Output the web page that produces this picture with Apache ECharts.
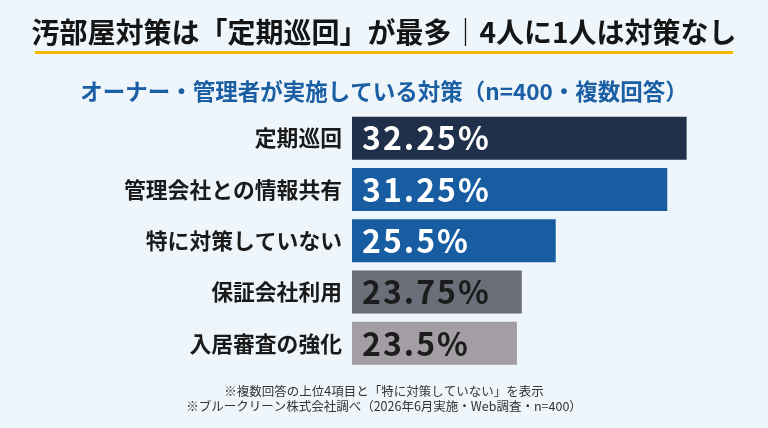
<!DOCTYPE html>
<html>
<head>
<meta charset="utf-8">
<script src="https://cdn.jsdelivr.net/npm/echarts@6/dist/echarts.min.js"></script>
<style>
  html, body { margin: 0; padding: 0; background: #eff6fb; }
  #chart { width: 768px; height: 428px; }
</style>
</head>
<body>
<div id="chart"></div>
<script>
// data
var categories = ['定期巡回', '管理会社との情報共有', '特に対策していない', '保証会社利用', '入居審査の強化']
var values = [32.25, 31.25, 25.5, 23.75, 23.5]

var barColors = ['#21304a', '#185da2', '#185da2', '#6b6f79', '#a39ea4']
var labelColors = ['#fff', '#fff', '#fff', '#1c1c1c', '#1c1c1c']

var jpFont = '"Noto Sans CJK JP", "Noto Sans", sans-serif'

// spread the value label a little (letterSpacing is not supported)
function spaced(s) {
  return s.split('').join('\u200a')
}

var chart = echarts.init(document.getElementById('chart'))
chart.setOption({
  backgroundColor: '#eff6fb',
  animation: false,
  title: [
    {
      text: '汚部屋対策は「定期巡回」が最多｜4人に1人は対策なし',
      left: 'center',
      top: 13,
      textStyle: { fontFamily: jpFont, fontSize: 28, fontWeight: 'bold', color: '#151515' }
    },
    {
      text: 'オーナー・管理者が実施している対策（n=400・複数回答）',
      left: 'center',
      top: 75,
      textStyle: { fontFamily: jpFont, fontSize: 22.5, fontWeight: 'bold', color: '#1a5ea3' }
    },
    {
      text: '※複数回答の上位4項目と「特に対策していない」を表示',
      left: 'center',
      top: 380,
      textStyle: { fontFamily: jpFont, fontSize: 12.5, fontWeight: 'normal', color: '#333' }
    },
    {
      text: '※ブルークリーン株式会社調べ（2026年6月実施・Web調査・n=400）',
      left: 'center',
      top: 395,
      textStyle: { fontFamily: jpFont, fontSize: 12.5, fontWeight: 'normal', color: '#333' }
    }
  ],
  graphic: [
    {
      type: 'line',
      shape: { x1: 35, y1: 52.5, x2: 733, y2: 52.5 },
      style: { stroke: '#f6b700', lineWidth: 3 }
    }
  ],
  grid: { left: 352, right: 28, top: 112.5, height: 256.5 },
  xAxis: {
    type: 'value',
    min: 15,
    max: 35,
    show: false
  },
  yAxis: {
    type: 'category',
    inverse: true,
    data: categories,
    axisLine: { show: false },
    axisTick: { show: false },
    axisLabel: {
      margin: 10,
      fontFamily: jpFont,
      fontSize: 21.8,
      fontWeight: 'bold',
      color: '#1a1a1a'
    }
  },
  series: [
    {
      type: 'bar',
      barWidth: 43,
      itemStyle: {
        color: function (p) { return barColors[p.dataIndex] }
      },
      label: {
        show: true,
        position: 'insideLeft',
        distance: 10,
        formatter: function (p) { return spaced(p.value + '%') },
        fontFamily: jpFont,
        fontSize: 32,
        fontWeight: 'bold'
      },
      data: values.map(function (v, i) {
        return { value: v, label: { color: labelColors[i] } }
      })
    }
  ]
})
</script>
</body>
</html>
